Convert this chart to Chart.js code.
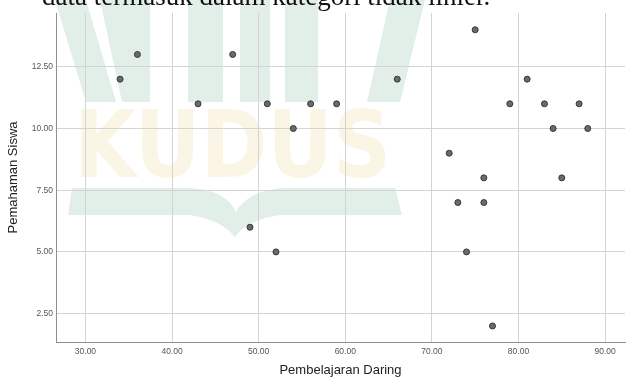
<!DOCTYPE html>
<html>
<head>
<meta charset="utf-8">
<title>Pembelajaran Daring vs Pemahaman Siswa</title>
<script src="https://cdn.jsdelivr.net/npm/chart.js"></script>
<style>
  * { margin: 0; padding: 0; box-sizing: border-box; }
  html, body { width: 629px; height: 381px; overflow: hidden; background: #fff; }
  #wrap { position: relative; width: 629px; height: 381px; overflow: hidden; }
  #chart { position: absolute; left: 0; top: 0; }
  .caption { position: absolute; left: 42px; top: -14px; font: 27px/21px "Liberation Serif", serif; color: #111; white-space: nowrap; }
</style>
</head>
<body>
<div id="wrap">
  <canvas id="chart" width="629" height="381"></canvas>
  <div class="caption">data termasuk dalam kategori tidak linier.</div>
</div>
<script>
const pembelajaranDaring = [34, 36, 43, 47, 49, 51, 52, 54, 56, 59, 66, 72, 73, 74, 75, 76, 76, 77, 79, 81, 83, 84, 85, 87, 88];
const pemahamanSiswa     = [12, 13, 11, 13,  6, 11,  5, 10, 11, 11, 12,  9,  7,  5, 14,  8,  7,  2, 11, 12, 11, 10,  8, 11, 10];
const xTicks = [30, 40, 50, 60, 70, 80, 90];
const yTicks = [2.5, 5, 7.5, 10, 12.5];

// faint logo watermark behind the plot
const watermark = {
  id: 'watermark',
  beforeDraw(chart) {
    const c = chart.ctx;
    c.save();
    c.fillStyle = '#fff';
    c.fillRect(0, 0, chart.width, chart.height);
    c.fillStyle = '#e2eee8';
    const poly = pts => {
      c.beginPath();
      pts.forEach((p, i) => i ? c.lineTo(p[0], p[1]) : c.moveTo(p[0], p[1]));
      c.closePath();
      c.fill();
    };
    poly([[55, 0], [86, 0], [116, 102], [86, 102]]);
    poly([[100, 0], [150, 0], [150, 102], [122, 102]]);
    poly([[188, 0], [223, 0], [223, 102], [188, 102]]);
    poly([[240, 0], [270, 0], [270, 102], [240, 102]]);
    poly([[285, 0], [318, 0], [318, 102], [285, 102]]);
    poly([[390, 0], [425, 0], [400, 102], [367, 102]]);
    // open book
    c.beginPath();
    c.moveTo(72, 188); c.lineTo(190, 188);
    c.quadraticCurveTo(226, 190, 236, 212);
    c.quadraticCurveTo(248, 190, 285, 188);
    c.lineTo(395, 188); c.lineTo(402, 215); c.lineTo(280, 215);
    c.quadraticCurveTo(246, 220, 235, 237);
    c.quadraticCurveTo(222, 220, 190, 215);
    c.lineTo(68, 215);
    c.closePath();
    c.fill();
    // KUDUS letters
    c.fillStyle = '#fbf5e6';
    c.font = 'bold 92px "DejaVu Sans"';
    const w = c.measureText('KUDUS').width;
    c.translate(74, 177);
    c.scale(317 / w, 1);
    c.fillText('KUDUS', 0, 0);
    c.restore();
  }
};

const tickFont = { size: 8.5, family: '"Liberation Sans", Arial, sans-serif' };
const titleFont = { size: 13, family: '"Liberation Sans", Arial, sans-serif' };

new Chart(document.getElementById('chart'), {
  type: 'scatter',
  data: {
    datasets: [{
      data: pembelajaranDaring.map((x, i) => ({ x: x, y: pemahamanSiswa[i] })),
      pointRadius: 3,
      pointHoverRadius: 3,
      backgroundColor: '#6a6a6a',
      borderColor: '#383838',
      borderWidth: 1
    }]
  },
  plugins: [watermark],
  options: {
    responsive: false,
    devicePixelRatio: 1,
    animation: false,
    layout: { padding: { top: 13, right: 2, left: 0, bottom: 0 } },
    plugins: { legend: { display: false }, tooltip: { enabled: false } },
    scales: {
      x: {
        type: 'linear', min: 26.6, max: 92.3,
        afterBuildTicks: s => { s.ticks = xTicks.map(v => ({ value: v })); },
        afterFit: s => { s.height = 39; },
        grid: { color: '#d4d4d4', drawTicks: false },
        border: { color: '#8f8f8f' },
        ticks: { padding: 5, color: '#555', font: tickFont, maxRotation: 0, callback: v => v.toFixed(2) },
        title: { display: true, text: 'Pembelajaran Daring', color: '#222', font: titleFont, padding: { top: 0, bottom: 3 } }
      },
      y: {
        type: 'linear', min: 1.35, max: 14.68,
        afterBuildTicks: s => { s.ticks = yTicks.map(v => ({ value: v })); },
        afterFit: s => { s.width = 56; },
        grid: { color: '#d4d4d4', drawTicks: false },
        border: { color: '#8f8f8f' },
        ticks: { padding: 3, color: '#555', font: tickFont, callback: v => v.toFixed(2) },
        title: { display: true, text: 'Pemahaman Siswa', color: '#222', font: titleFont, padding: { top: 6, bottom: 0 } }
      }
    }
  }
});
</script>
</body>
</html>
